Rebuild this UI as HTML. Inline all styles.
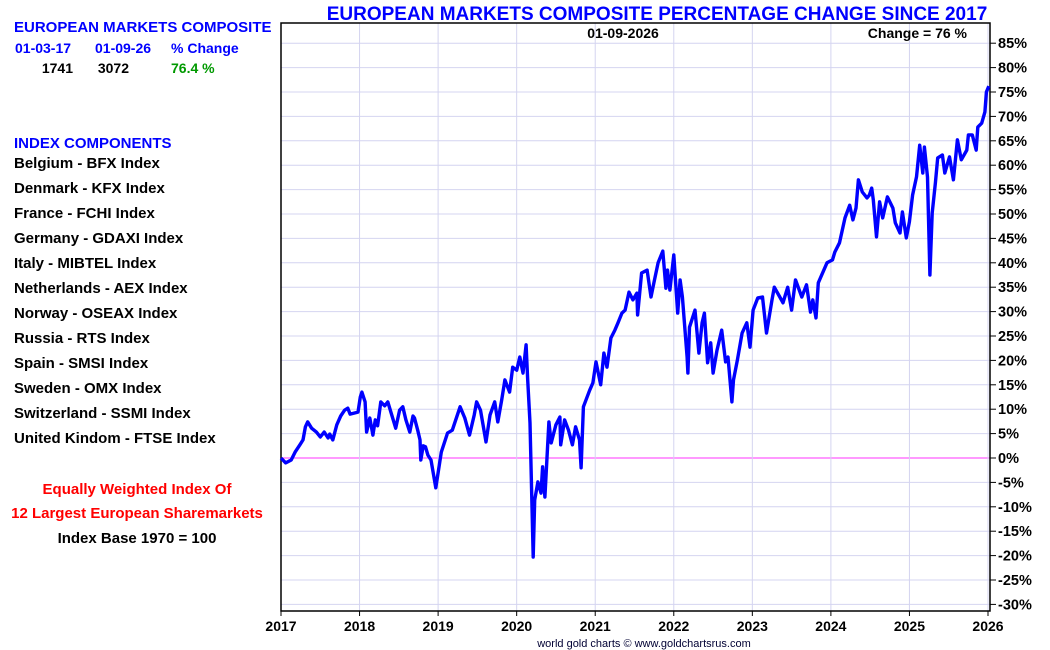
<!DOCTYPE html>
<html><head><meta charset="utf-8"><style>
body{margin:0;width:1050px;height:650px;background:#fff;overflow:hidden;font-family:"Liberation Sans",Arial,sans-serif;}
svg{position:absolute;left:0;top:0}
</style></head><body>
<svg width="1050" height="650" xmlns="http://www.w3.org/2000/svg" font-family="Liberation Sans, Arial, sans-serif" font-weight="bold">
<g id="left-panel">
<text x="14" y="32" font-size="15" fill="#0000ff">EUROPEAN MARKETS COMPOSITE</text>
<text x="15" y="53" font-size="14" fill="#0000ff">01-03-17</text>
<text x="95" y="53" font-size="14" fill="#0000ff">01-09-26</text>
<text x="171" y="53" font-size="14" fill="#0000ff">% Change</text>
<text x="73" y="73" font-size="14" fill="#000" text-anchor="end">1741</text>
<text x="129" y="73" font-size="14" fill="#000" text-anchor="end">3072</text>
<text x="171" y="73" font-size="14" fill="#009900">76.4 %</text>
<text x="14" y="148" font-size="15" fill="#0000ff">INDEX COMPONENTS</text>
<g font-size="15" fill="#000" id="comps"></g>
<text x="137" y="494" font-size="15" fill="#ff0000" text-anchor="middle">Equally Weighted Index Of</text>
<text x="137" y="518" font-size="15" fill="#ff0000" text-anchor="middle">12 Largest European Sharemarkets</text>
<text x="137" y="543" font-size="15" fill="#000" text-anchor="middle">Index Base 1970 = 100</text>
</g>
<text x="657" y="20" font-size="19" fill="#0000ff" text-anchor="middle">EUROPEAN MARKETS COMPOSITE PERCENTAGE CHANGE SINCE 2017</text>
<g id="grid"></g>
<g id="axes"></g>
<g id="series"></g>
<text x="623" y="38" font-size="14" fill="#000" text-anchor="middle">01-09-2026</text>
<text x="967" y="38" font-size="14" fill="#000" text-anchor="end">Change = 76 %</text>
<text x="644" y="647" font-size="11" font-weight="normal" fill="#000033" text-anchor="middle">world gold charts © www.goldchartsrus.com</text>
</svg>
<script>
const components=["Belgium - BFX Index","Denmark - KFX Index","France - FCHI Index","Germany - GDAXI Index","Italy - MIBTEL Index","Netherlands - AEX Index","Norway - OSEAX Index","Russia - RTS Index","Spain - SMSI Index","Sweden - OMX Index","Switzerland - SSMI Index","United Kindom - FTSE Index"];
const yTicks=[85,80,75,70,65,60,55,50,45,40,35,30,25,20,15,10,5,0,-5,-10,-15,-20,-25,-30];
const xTicks=[2017,2018,2019,2020,2021,2022,2023,2024,2025,2026];
const years=[2017.00,2017.06,2017.13,2017.18,2017.24,2017.28,2017.31,2017.34,2017.39,2017.45,2017.50,2017.55,2017.60,2017.62,2017.66,2017.71,2017.76,2017.81,2017.85,2017.88,2017.93,2017.98,2018.01,2018.03,2018.07,2018.09,2018.13,2018.17,2018.20,2018.23,2018.27,2018.32,2018.36,2018.41,2018.46,2018.51,2018.55,2018.59,2018.64,2018.68,2018.70,2018.74,2018.77,2018.78,2018.81,2018.84,2018.87,2018.91,2018.97,2019.04,2019.12,2019.18,2019.28,2019.34,2019.40,2019.46,2019.49,2019.54,2019.61,2019.66,2019.72,2019.76,2019.81,2019.85,2019.91,2019.95,2020.00,2020.04,2020.08,2020.12,2020.14,2020.17,2020.21,2020.23,2020.27,2020.31,2020.33,2020.36,2020.41,2020.44,2020.50,2020.55,2020.56,2020.61,2020.66,2020.71,2020.75,2020.80,2020.82,2020.85,2020.93,2020.97,2021.01,2021.07,2021.11,2021.15,2021.20,2021.25,2021.29,2021.34,2021.38,2021.43,2021.48,2021.53,2021.54,2021.59,2021.66,2021.71,2021.75,2021.80,2021.86,2021.90,2021.92,2021.95,2022.00,2022.05,2022.08,2022.11,2022.17,2022.18,2022.20,2022.27,2022.32,2022.36,2022.39,2022.43,2022.47,2022.50,2022.55,2022.61,2022.66,2022.69,2022.74,2022.76,2022.81,2022.87,2022.93,2022.97,2023.01,2023.07,2023.13,2023.18,2023.25,2023.28,2023.35,2023.39,2023.45,2023.50,2023.55,2023.63,2023.69,2023.74,2023.77,2023.81,2023.84,2023.95,2024.02,2024.05,2024.11,2024.18,2024.24,2024.28,2024.32,2024.35,2024.40,2024.46,2024.49,2024.52,2024.54,2024.58,2024.62,2024.66,2024.72,2024.79,2024.82,2024.88,2024.91,2024.96,2025.00,2025.04,2025.09,2025.13,2025.17,2025.19,2025.23,2025.26,2025.29,2025.33,2025.36,2025.42,2025.45,2025.51,2025.56,2025.61,2025.66,2025.73,2025.75,2025.80,2025.85,2025.87,2025.92,2025.96,2025.98,2026.01];
const pctChange=[0,-1.0,-0.4,1.2,2.7,3.7,6.4,7.4,6.1,5.3,4.3,5.3,4.1,4.9,3.7,6.8,8.6,9.8,10.2,9.0,9.2,9.4,12.5,13.5,11.5,5.3,8.2,4.7,7.8,6.6,11.5,10.7,11.5,8.8,6.1,9.8,10.5,7.8,5.3,8.6,8.2,5.7,3.7,-0.4,2.5,2.3,0.6,-0.4,-6.1,1.2,5.1,5.7,10.5,8.2,4.7,8.8,11.5,9.8,3.3,8.8,11.5,7.4,11.9,16.0,13.5,18.6,18.0,20.7,17.4,23.2,16.0,7.2,-20.3,-8.6,-4.9,-7.2,-1.8,-8.0,7.4,3.1,6.8,8.4,2.7,7.8,5.7,2.7,6.4,3.7,-2.0,10.5,13.9,15.4,19.7,15.0,21.5,18.6,24.6,26.2,27.7,29.7,30.3,34.0,32.4,33.8,29.3,37.9,38.5,33.0,36.1,40.0,42.4,34.8,38.5,34.4,41.6,29.7,36.5,33.0,20.7,17.4,26.8,30.3,21.5,27.7,29.7,19.5,23.6,17.4,22.1,26.2,19.7,20.7,11.5,16.0,20.1,25.6,27.7,22.7,30.3,32.8,33.0,25.6,32.4,35.0,33.0,31.8,35.0,30.3,36.5,33.0,35.5,29.9,32.4,28.7,35.9,40.0,40.6,42.2,44.1,49.2,51.8,48.8,51.2,57.0,54.5,53.3,53.9,55.3,52.9,45.3,52.5,49.2,53.5,51.2,48.2,46.1,50.4,45.1,48.4,53.9,57.6,64.1,58.4,63.7,57.6,37.5,50.2,56.4,61.5,62.1,58.4,61.7,57.0,65.2,61.1,63.1,66.2,66.2,63.1,67.8,68.6,70.9,75.0,76.2];

const NS="http://www.w3.org/2000/svg";
const L=281,R=990,T=23,B=611;
function xs(v){return L+(v-2017)*(988-L)/9;}
function ys(v){return 458-v*4.88;}
function mk(tag,attrs,parent){const e=document.createElementNS(NS,tag);for(const k in attrs)e.setAttribute(k,attrs[k]);parent.appendChild(e);return e;}
const comps=document.getElementById('comps');
components.forEach((c,i)=>{const t=mk('text',{x:14,y:168+i*25},comps);t.textContent=c;

});
const grid=document.getElementById('grid'),axes=document.getElementById('axes'),series=document.getElementById('series');
yTicks.forEach(v=>{const y=ys(v);
const g=mk('line',{x1:L,x2:R,y1:y,y2:y,stroke:v===0?'#ff33ff':'#d4d4f0','stroke-width':1},grid);


const tk=mk('line',{x1:R,x2:R+6,y1:y,y2:y,stroke:'#000','stroke-width':1},axes);


const t=mk('text',{x:R+8,y:y+5,'font-size':14.5,fill:'#000'},axes);t.textContent=v+'%';

});
xTicks.forEach(v=>{const x=xs(v);
if(v>2017){const g=mk('line',{x1:x,x2:x,y1:T,y2:B,stroke:'#d4d4f0','stroke-width':1},grid);

}
const tk=mk('line',{x1:x,x2:x,y1:B,y2:B+5,stroke:'#000'},axes);


const t=mk('text',{x:x,y:631,'font-size':14,fill:'#000','text-anchor':'middle'},axes);t.textContent=v;

});
const fr=mk('path',{d:`M${L},${T}H${R}V${B}H${L}Z`,fill:'none',stroke:'#000','stroke-width':1.5},axes);


const d=years.map((y,i)=>(i?'L':'M')+xs(y).toFixed(1)+','+ys(pctChange[i]).toFixed(1)).join('');
const p=mk('path',{d:d,fill:'none',stroke:'#0000ff','stroke-width':3.4,'stroke-linejoin':'round'},series);


</script>
</body></html>
